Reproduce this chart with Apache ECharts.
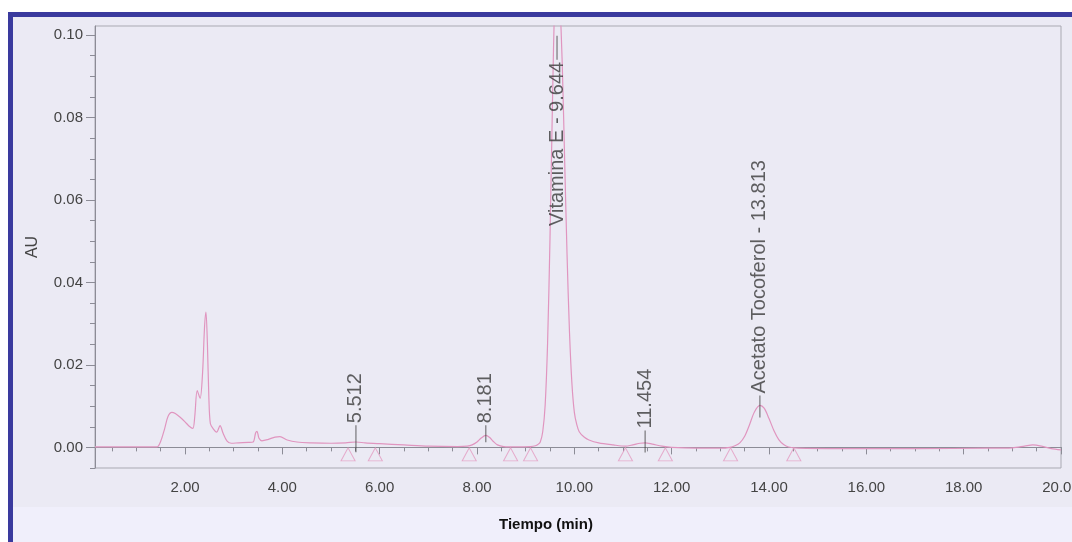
<!DOCTYPE html>
<html>
<head>
<meta charset="utf-8">
<title>Cromatograma</title>
<script src="https://cdn.jsdelivr.net/npm/echarts@6.0.0/dist/echarts.min.js"></script>
<style>
    html, body { margin: 0; padding: 0; background: #ffffff; }
    #main { width: 1072px; height: 542px; }
</style>
</head>
<body>
<div id="main"></div>
<script>
var traceTime = [0.15, 1.0, 1.42, 1.50, 1.58, 1.65, 1.73, 1.80, 1.90, 2.00, 2.08, 2.16, 2.20, 2.25, 2.31, 2.36, 2.40, 2.43, 2.46, 2.49,
    2.52, 2.58, 2.65, 2.72, 2.78, 2.86, 2.95, 3.10, 3.30, 3.40, 3.45, 3.48, 3.52, 3.58, 3.70, 3.85, 3.95, 4.10, 4.30, 4.60,
    5.00, 5.30, 5.512, 5.70, 6.00, 6.50, 7.00, 7.60, 7.80, 7.90, 8.00, 8.08, 8.181, 8.26, 8.33, 8.42, 8.55, 8.80, 9.10, 9.20,
    9.25, 9.30, 9.35, 9.40, 9.45, 9.50, 9.55, 9.60, 9.644, 9.70, 9.75, 9.80, 9.85, 9.90, 9.95, 10.00, 10.05, 10.10, 10.20, 10.30,
    10.50, 10.80, 11.05, 11.20, 11.35, 11.454, 11.60, 11.80, 12.00, 12.50, 13.00, 13.20, 13.30, 13.40, 13.50, 13.60, 13.70, 13.813, 13.90, 14.00,
    14.10, 14.20, 14.30, 14.40, 14.60, 15.50, 17.00, 18.50, 19.00, 19.25, 19.42, 19.60, 19.80, 20.00];
var traceAU = [0.0001, 0.0001, 0.0001, 0.0015, 0.0045, 0.0075, 0.0085, 0.0082, 0.0073, 0.0062, 0.0052, 0.0046, 0.0075, 0.0138, 0.0119, 0.0180, 0.0290, 0.0328, 0.0250, 0.0120,
    0.0058, 0.0045, 0.0037, 0.0053, 0.0035, 0.0016, 0.0010, 0.0011, 0.0012, 0.0013, 0.0035, 0.0039, 0.0022, 0.0016, 0.0019, 0.0025, 0.0026, 0.0018, 0.0013, 0.0011,
    0.0010, 0.0011, 0.0013, 0.0011, 0.0009, 0.0006, 0.0003, 0.0002, 0.0003, 0.0006, 0.0013, 0.0022, 0.0029, 0.0024, 0.0015, 0.0006, 0.0002, 0.0001, 0.0002, 0.0004,
    0.0007, 0.0013, 0.0038, 0.0102, 0.0253, 0.0509, 0.0833, 0.1108, 0.1200, 0.1090, 0.0935, 0.0700, 0.0467, 0.0280, 0.0155, 0.0085, 0.0055, 0.0038, 0.0025, 0.0018,
    0.0011, 0.0006, 0.0003, 0.0006, 0.0010, 0.0011, 0.0008, 0.0003, 0.0000, -0.0002, -0.0002, 0.0000, 0.0004, 0.0011, 0.0027, 0.0055, 0.0086, 0.0102, 0.0095, 0.0070,
    0.0041, 0.0019, 0.0007, 0.0001, -0.0002, -0.0003, -0.0003, -0.0002, -0.0001, 0.0003, 0.0006, 0.0003, -0.0003, -0.0006];

// picos integrados
var peakTimes = [5.512, 8.181, 9.644, 11.454, 13.813];
var peakLabels = ['5.512', '8.181', 'Vitamina E - 9.644', '11.454', 'Acetato Tocoferol - 13.813'];
var peakMarkAU = [0.0021, 0.0033, 0.0969, 0.00145, 0.0099];

// marcas de inicio / fin de integracion (triangulos)
var boundTimes = [5.35, 5.91, 7.84, 8.69, 9.10, 11.05, 11.87, 13.21, 14.51];

// etiquetas y marcas de los ejes
var xTickLabels = [2, 4, 6, 8, 10, 12, 14, 16, 18, 20];
var xMinorTicks = [0.5, 1, 1.5, 2, 2.5, 3, 3.5, 4, 4.5, 5, 5.5, 6, 6.5, 7, 7.5, 8, 8.5, 9, 9.5, 10,
    10.5, 11, 11.5, 12, 12.5, 13, 13.5, 14, 14.5, 15, 15.5, 16, 16.5, 17, 17.5, 18, 18.5, 19, 19.5, 20];
var yTickLabels = [0, 0.02, 0.04, 0.06, 0.08, 0.10];
var yMinorTicks = [-0.005, 0, 0.005, 0.01, 0.015, 0.02, 0.025, 0.03, 0.035, 0.04, 0.045, 0.05,
    0.055, 0.06, 0.065, 0.07, 0.075, 0.08, 0.085, 0.09, 0.095, 0.10];

(function () {
    var font = 'Liberation Sans, Arial, Helvetica, sans-serif';
    var axisColor = '#8c8c96';
    var textColor = '#444444';
    var lineColor = '#e095bf';

    //longitud de la raya de cada pico (px)
    var markLen = [27, 17, 24, 22, 22];

    var traceData = [];
    for (var i = 0; i < traceTime.length; i++) {
        traceData.push([traceTime[i], traceAU[i]]);
    }

    var peakData = [];
    for (var j = 0; j < peakTimes.length; j++) {
        var below = peakLabels[j].indexOf('Vitamina') === 0; // pico fuera de escala: texto debajo
        peakData.push({
            value: [peakTimes[j], peakMarkAU[j]],
            symbolSize: [1, markLen[j]],
            label: {
                show: true,
                formatter: peakLabels[j],
                position: below ? 'bottom' : 'top',
                distance: 2,
                rotate: 90,
                align: below ? 'right' : 'left',
                verticalAlign: 'middle',
                fontSize: 20,
                fontFamily: font,
                color: '#3a3a3a'
            }
        });
    }

    var boundData = [];
    for (var k = 0; k < boundTimes.length; k++) {
        boundData.push([boundTimes[k], 0]);
    }

    var myChart = echarts.init(document.getElementById('main'));

    var option = {
        animation: false,
        textStyle: { fontFamily: font },
        graphic: [
            //marco azul y fondos
            { type: 'rect', z: -10, silent: true, shape: { x: 8, y: 12, width: 1064, height: 530 }, style: { fill: '#3a3a9e' } },
            { type: 'rect', z: -9, silent: true, shape: { x: 13, y: 17, width: 1059, height: 490 }, style: { fill: '#ebeaf4' } },
            { type: 'rect', z: -9, silent: true, shape: { x: 13, y: 507, width: 1059, height: 35 }, style: { fill: '#f0effb' } },
            {
                type: 'text', x: 546, y: 525, silent: true,
                style: { text: 'Tiempo (min)', fill: '#111111', font: 'bold 15px ' + font, align: 'center', verticalAlign: 'middle' }
            }
        ],
        grid: {
            left: 95,
            right: 11,
            top: 26,
            bottom: 74,
            containLabel: false,
            outerBoundsMode: 'none',
            show: true,
            backgroundColor: 'transparent',
            borderColor: '#a9a9b2',
            borderWidth: 1
        },
        xAxis: [
            {
                type: 'value',
                min: 0.15,
                max: 20,
                position: 'bottom',
                axisLine: { show: true, lineStyle: { color: axisColor } },
                axisTick: { show: true, customValues: xTickLabels, length: 7, lineStyle: { color: axisColor } },
                axisLabel: {
                    show: true,
                    customValues: xTickLabels,
                    margin: 12,
                    fontSize: 15,
                    color: textColor,
                    formatter: function (v) { return v.toFixed(2); }
                },
                splitLine: { show: false }
            },
            {
                type: 'value',
                min: 0.15,
                max: 20,
                position: 'bottom',
                axisLine: { show: false },
                axisTick: { show: true, customValues: xMinorTicks, length: 4, lineStyle: { color: axisColor } },
                axisLabel: { show: false },
                splitLine: { show: false }
            }
        ],
        yAxis: [
            {
                type: 'value',
                min: -0.005,
                max: 0.1022,
                name: 'AU',
                nameLocation: 'middle',
                nameRotate: 90,
                nameGap: 54,
                nameTextStyle: { fontSize: 16, color: textColor },
                axisLine: { show: true, lineStyle: { color: axisColor } },
                axisTick: { show: true, customValues: yTickLabels, length: 9, lineStyle: { color: axisColor } },
                axisLabel: {
                    show: true,
                    customValues: yTickLabels,
                    margin: 12,
                    fontSize: 15,
                    color: textColor,
                    formatter: function (v) { return v.toFixed(2); }
                },
                splitLine: { show: false }
            },
            {
                type: 'value',
                min: -0.005,
                max: 0.1022,
                position: 'left',
                axisLine: { show: false },
                axisTick: { show: true, customValues: yMinorTicks, length: 5, lineStyle: { color: axisColor } },
                axisLabel: { show: false },
                splitLine: { show: false }
            }
        ],
        series: [
            {
                name: 'AU',
                type: 'line',
                data: traceData,
                showSymbol: false,
                smooth: 0.3,
                clip: true,
                lineStyle: { color: lineColor, width: 1.2 },
                z: 3
            },
            {
                name: 'limites',
                type: 'scatter',
                data: boundData,
                symbol: 'triangle',
                symbolSize: [14, 13],
                symbolOffset: [0, 7],
                itemStyle: { color: 'rgba(0,0,0,0)', borderColor: '#e39ac0', borderWidth: 1 },
                z: 4
            },
            {
                name: 'picos',
                type: 'scatter',
                data: peakData,
                symbol: 'rect',
                itemStyle: { color: '#3c3c3c' },
                z: 5
            }
        ]
    };

    myChart.setOption(option);
})();
</script>
</body>
</html>
